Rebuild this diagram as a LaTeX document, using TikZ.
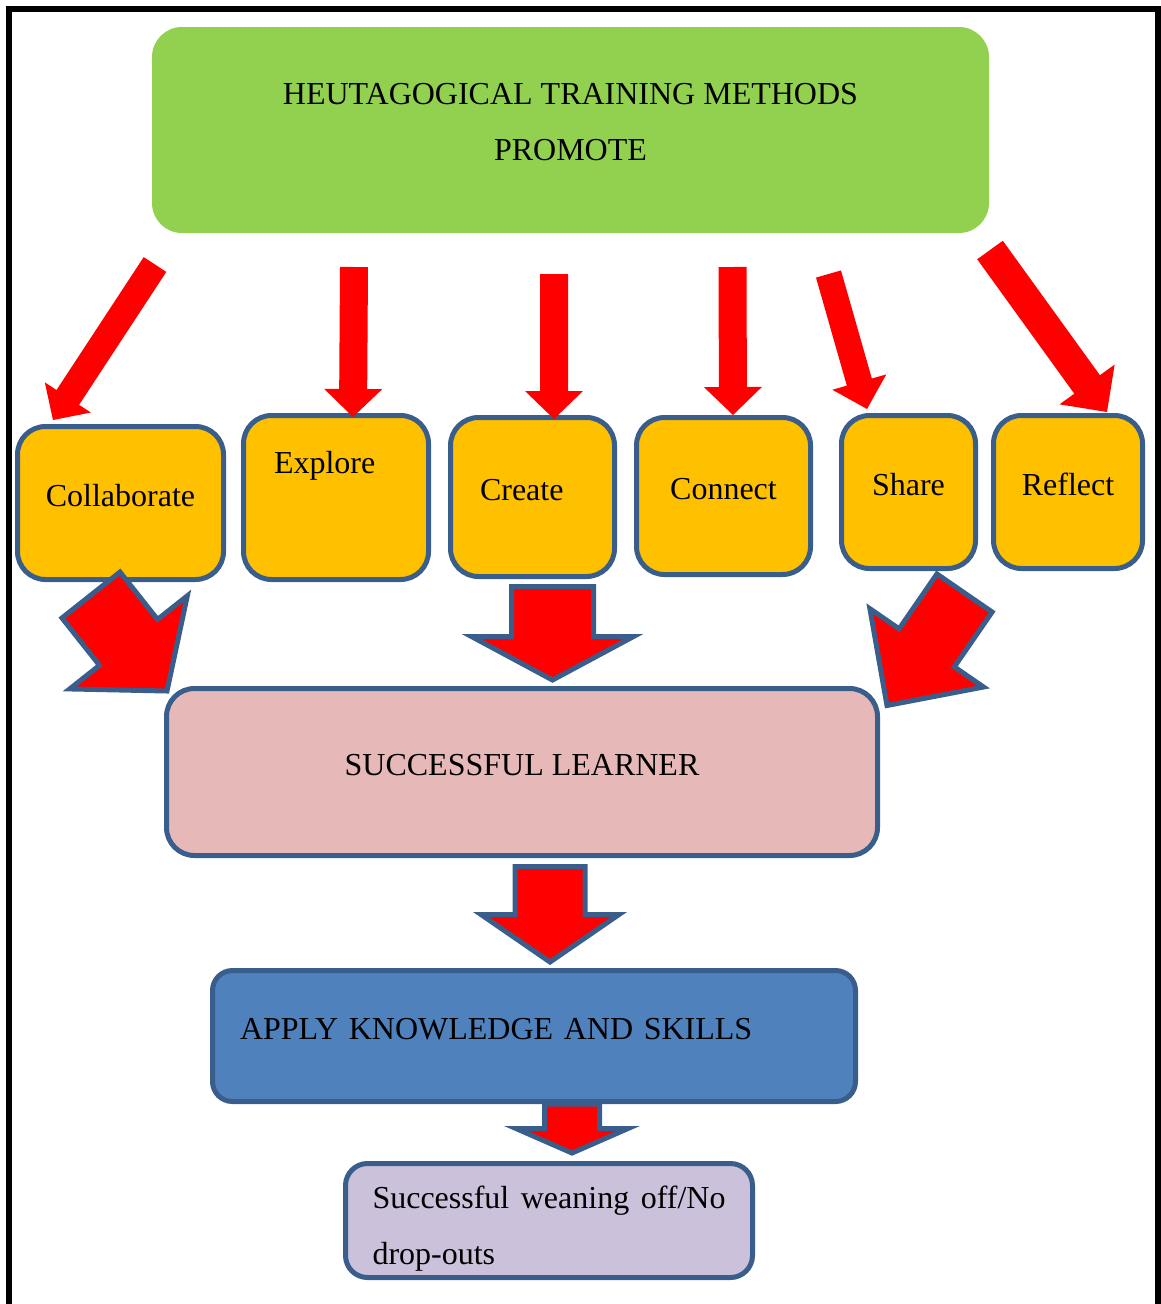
\documentclass[tikz,border=0pt]{standalone}
\usepackage{fontspec}
\setmainfont{Liberation Serif}
\usetikzlibrary{calc}
\definecolor{boxline}{HTML}{3A5E8C}
\definecolor{promotegreen}{HTML}{92D050}
\definecolor{skillorange}{HTML}{FFC000}
\definecolor{learnerpink}{HTML}{E6B9B8}
\definecolor{applyblue}{HTML}{4F81BD}
\definecolor{weanlilac}{HTML}{CCC1DA}
\tikzset{
  box/.style={draw=boxline,line width=5pt,rounded corners=28pt,inner sep=0pt,text height=22pt,text depth=16pt},
  skillbox/.style={box,fill=skillorange},
  slim/.style={fill=red},
  block/.style={fill=red,draw=boxline,line width=5pt},
}
\begin{document}
\begin{tikzpicture}[x=1pt,y=-1pt,font=\fontsize{32}{56}\selectfont]
\newcommand{\arrowpoly}[6]{\coordinate (hb) at ($(#2)!#5!(#1)$);\path[#6] ($(#1)!#3!90:(#2)$) -- ($(hb)!#3!90:(#2)$) -- ($(hb)!#4!90:(#2)$) -- (#2) -- ($(hb)!#4!-90:(#2)$) -- ($(hb)!#3!-90:(#2)$) -- ($(#1)!#3!-90:(#2)$) -- cycle;}
\useasboundingbox (0,0) rectangle (1161,1304);
\draw[line width=6pt] (8.5,1320) -- (8.5,8.5) -- (1158,8.5) -- (1158,1320);
% boxes
\node[fill=promotegreen,rounded corners=30pt,minimum width=837pt,minimum height=206pt,align=center,text depth=16pt] (promote) at (570.5,130) {HEUTAGOGICAL TRAINING METHODS\\PROMOTE};
\node[skillbox,minimum width=206pt,minimum height=153pt] (collab) at (120.5,503) {Collaborate};
\node[skillbox,minimum width=185pt,minimum height=164pt,text width=124pt,align=left,text depth=71pt] (explore) at (336,497.5) {Explore};
\node[skillbox,minimum width=164pt,minimum height=159pt,text width=105pt,align=left] (create) at (532.5,497) {Create};
\node[skillbox,minimum width=174pt,minimum height=157pt] (connect) at (723.5,496) {Connect};
\node[skillbox,minimum width=134pt,minimum height=153pt] (share) at (908.5,492) {Share};
\node[skillbox,minimum width=149pt,minimum height=153pt] (reflect) at (1068,492) {Reflect};
\node[box,fill=learnerpink,minimum width=711pt,minimum height=167pt] (learner) at (522,772) {SUCCESSFUL LEARNER};
\node[box,fill=applyblue,rounded corners=20pt,minimum width=643pt,minimum height=131pt,text width=588pt,align=left] (apply) at (534,1036) {APPLY KNOWLEDGE AND SKILLS};
\node[box,fill=weanlilac,rounded corners=22pt,minimum width=407pt,minimum height=114pt,text width=353pt,align=justify,text depth=47pt] (wean) at (549,1220.5) {Successful weaning off/No drop-outs};
% slim arrows
\coordinate (s1) at (155,264.5);\coordinate (s2) at (354,267);\coordinate (s3) at (554,274);
\coordinate (s4) at (732.5,267);\coordinate (s5) at (828.5,274);\coordinate (s6) at (990,250);
\coordinate (t1) at ([xshift=-67.5pt,yshift=4pt]collab.north);
\coordinate (t2) at ([xshift=17pt,yshift=-4pt]explore.north);
\coordinate (t3) at ([xshift=21.5pt,yshift=-4pt]create.north);
\coordinate (t4) at ([xshift=9.5pt]connect.north);
\coordinate (t5) at ([xshift=-41.5pt,yshift=4pt]share.north);
\coordinate (t6) at ([xshift=39pt,yshift=1pt]reflect.north);
\foreach \s/\t/\w/\h/\l in {s1/t1/13.5/27.5/27,s2/t2/14/29/28,s3/t3/14/29/28,s4/t4/14/29/28,s5/t5/13/28/28,s6/t6/15.8/34/34}
  {\arrowpoly{\s}{\t}{\w pt}{\h pt}{\l pt}{slim}}
% block arrows
\coordinate (b1s) at ([xshift=-29.5pt,yshift=-13pt]collab.south);
\coordinate (b1t) at ([xshift=3pt,yshift=-5pt]learner.north west);
\coordinate (b2s) at ([xshift=20pt,yshift=-7.5pt]create.south);
\coordinate (b2t) at ([xshift=30.5pt,yshift=6pt]learner.north);
\coordinate (b3s) at ([xshift=56pt,yshift=-22pt]share.south);
\coordinate (b3t) at ([xshift=7pt,yshift=-19.5pt]learner.north east);
\coordinate (b4s) at ([xshift=28pt,yshift=-8.5pt]learner.south);
\coordinate (b4t) at ([xshift=16pt,yshift=6pt]apply.north);
\coordinate (b5s) at ([xshift=38pt]apply.south);
\coordinate (b5t) at ([xshift=23pt,yshift=8pt]wean.north);
\foreach \s/\t/\w/\h/\l in {b1s/b1t/37/75/62,b2s/b2t/41/81/43.5,b3s/b3t/33.5/69/70,b4s/b4t/35/69/47.5,b5s/b5t/27.5/56/24.5}
  {\arrowpoly{\s}{\t}{\w pt}{\h pt}{\l pt}{block}}
\end{tikzpicture}
\end{document}
